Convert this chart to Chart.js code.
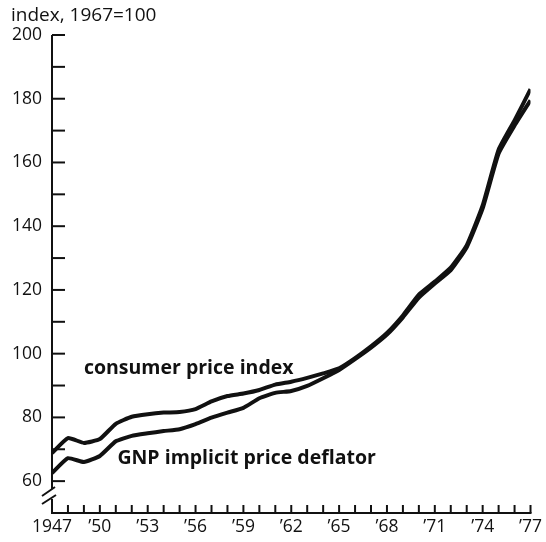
<!DOCTYPE html>
<html>
<head>
<meta charset="utf-8">
<script src="https://cdn.jsdelivr.net/npm/chart.js@4/dist/chart.umd.min.js"></script>
<style>
  html, body { margin: 0; padding: 0; background: #fff; }
  #wrap { width: 546px; height: 542px; }
</style>
</head>
<body>
<div id="wrap"><canvas id="priceChart" width="546" height="542"></canvas></div>
<script>
// Dane (1967=100)
const years = [1947, 1948, 1949, 1950, 1951, 1952, 1953, 1954, 1955, 1956,
  1957, 1958, 1959, 1960, 1961, 1962, 1963, 1964, 1965, 1966,
  1967, 1968, 1969, 1970, 1971, 1972, 1973, 1974, 1975, 1976, 1977];

const cpi = [68.8, 73.5, 72.0, 73.2, 78.0, 80.2, 81.0, 81.5, 81.7, 82.6,
  85.0, 86.7, 87.5, 88.6, 90.3, 91.2, 92.4, 93.8, 95.4, 98.6,
  102.3, 106.5, 112.0, 118.5, 122.6, 127.0, 134.0, 146.5, 164.0, 173.2, 183.0];

const gnp = [62.5, 67.2, 66.0, 67.9, 72.5, 74.2, 75.0, 75.7, 76.3, 77.9,
  79.9, 81.5, 83.0, 86.0, 87.7, 88.3, 89.9, 92.3, 94.9, 98.3,
  101.9, 106.0, 111.4, 117.6, 122.0, 126.2, 133.4, 145.6, 162.8, 171.6, 179.5];

const yLabels = [60, 80, 100, 120, 140, 160, 180, 200];

// Podpisy serii (rok, wartość)
const seriesLabels = [
  { text: "consumer price index", x: 1949.0, y: 95.5 },
  { text: "GNP implicit price deflator", x: 1951.1, y: 67.0 }
];

const FONT = "'Open Sans', sans-serif";

// Osie, znaczniki i przerwa na osi Y rysowane ręcznie
const axesPlugin = {
  id: "axesPlugin",
  afterDraw(chart) {
    const ctx = chart.ctx;
    const xs = chart.scales.x;
    const ys = chart.scales.y;
    const left = xs.getPixelForValue(1947);
    const bottom = ys.getPixelForValue(50);
    const top = ys.getPixelForValue(200);
    const right = xs.getPixelForValue(1977);

    ctx.save();
    ctx.strokeStyle = "#111";
    ctx.lineWidth = 2;
    ctx.lineCap = "butt";

    // oś Y z przerwą
    ctx.beginPath();
    ctx.moveTo(left, top);
    ctx.lineTo(left, bottom - 24);
    ctx.moveTo(left, bottom - 14);
    ctx.lineTo(left, bottom);
    ctx.stroke();

    // ukośne kreski przerwy
    ctx.beginPath();
    ctx.moveTo(left - 10, bottom - 17);
    ctx.lineTo(left + 3, bottom - 26);
    ctx.moveTo(left - 10, bottom - 9);
    ctx.lineTo(left + 4, bottom - 18);
    ctx.stroke();

    // znaczniki osi Y
    for (let v = 60; v <= 200; v += 10) {
      const py = ys.getPixelForValue(v);
      ctx.beginPath();
      ctx.moveTo(left, py);
      ctx.lineTo(left + 13, py);
      ctx.stroke();
    }

    // oś X
    ctx.beginPath();
    ctx.moveTo(left - 1, bottom);
    ctx.lineTo(right + 1, bottom);
    ctx.stroke();

    for (let yr = 1948; yr <= 1977; yr++) {
      const px = xs.getPixelForValue(yr);
      ctx.beginPath();
      ctx.moveTo(px, bottom);
      ctx.lineTo(px, bottom - 8);
      ctx.stroke();
    }

    // tytuł osi
    ctx.fillStyle = "#111";
    ctx.font = "19px " + FONT;
    ctx.textAlign = "left";
    ctx.textBaseline = "middle";
    ctx.fillText("index, 1967=100", 11, 16);

    // podpisy serii
    ctx.font = "bold 19.5px " + FONT;
    seriesLabels.forEach(l => {
      ctx.fillText(l.text, xs.getPixelForValue(l.x), ys.getPixelForValue(l.y));
    });
    ctx.restore();
  }
};

const ctx = document.getElementById("priceChart").getContext("2d");
new Chart(ctx, {
  type: "line",
  data: {
    datasets: [
      {
        label: "consumer price index",
        data: years.map((yr, i) => ({ x: yr, y: cpi[i] })),
        borderColor: "#111",
        borderWidth: 4,
        pointRadius: 0,
        tension: 0.15,
        fill: false
      },
      {
        label: "GNP implicit price deflator",
        data: years.map((yr, i) => ({ x: yr, y: gnp[i] })),
        borderColor: "#111",
        borderWidth: 4,
        pointRadius: 0,
        tension: 0.15,
        fill: false
      }
    ]
  },
  options: {
    responsive: false,
    animation: false,
    layout: { padding: { top: 35, right: 14, left: 0, bottom: 0 } },
    plugins: {
      legend: { display: false },
      tooltip: { enabled: false }
    },
    scales: {
      x: {
        type: "linear",
        min: 1947,
        max: 1977,
        afterFit(scale) { scale.height = 29; },
        afterBuildTicks(scale) {
          scale.ticks = years.filter(y => (y - 1947) % 3 === 0).map(v => ({ value: v }));
        },
        ticks: {
          color: "#111",
          padding: 4,
          maxRotation: 0,
          autoSkip: false,
          font: { family: FONT, size: 17.5 },
          callback: v => v === 1947 ? "1947" : "\u2019" + String(v).slice(2)
        },
        grid: { display: false, drawTicks: false },
        border: { display: false }
      },
      y: {
        min: 50,
        max: 200,
        afterFit(scale) { scale.width = 52; },
        afterBuildTicks(scale) {
          scale.ticks = yLabels.map(v => ({ value: v }));
        },
        ticks: {
          color: "#111",
          padding: 10,
          autoSkip: false,
          font: { family: FONT, size: 17.5 }
        },
        grid: { display: false, drawTicks: false },
        border: { display: false }
      }
    }
  },
  plugins: [axesPlugin]
});
</script>
</body>
</html>
